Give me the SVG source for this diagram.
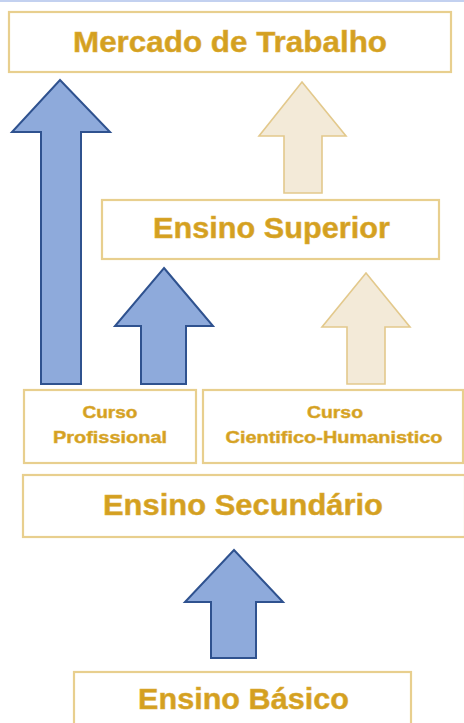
<svg xmlns="http://www.w3.org/2000/svg" width="464" height="723" viewBox="0 0 464 723">
<style>
.box{fill:#ffffff;stroke:#e8cf8e;stroke-width:2.2}
.t{font-family:"Liberation Sans",Arial,sans-serif;font-weight:bold;fill:#d4a021;stroke:#dcae3a;stroke-width:0.5;text-anchor:middle}
.big{font-size:30px}
.small{font-size:17px}
.blue{fill:#8eaadb;stroke:#2f528f;stroke-width:2;stroke-linejoin:miter}
.tan{fill:#f3ead8;stroke:#e3c98c;stroke-width:1.6}
</style>
<rect x="0" y="0" width="464" height="723" fill="#ffffff"/>
<rect x="0" y="0" width="464" height="2" fill="#c3d1f0"/>
<g id="mercado">
<rect class="box" x="9" y="12" width="442" height="60"/>
<text class="t big" x="230" y="52" textLength="314" lengthAdjust="spacingAndGlyphs">Mercado de Trabalho</text>
</g>
<g id="superior">
<rect class="box" x="102" y="200" width="337" height="59"/>
<text class="t big" x="271.5" y="238" textLength="237" lengthAdjust="spacingAndGlyphs">Ensino Superior</text>
</g>
<g id="profissional">
<rect class="box" x="24" y="390" width="172" height="73"/>
<text class="t small" x="110" y="418" textLength="55" lengthAdjust="spacingAndGlyphs">Curso</text>
<text class="t small" x="110" y="443" textLength="114" lengthAdjust="spacingAndGlyphs">Profissional</text>
</g>
<g id="cientifico">
<rect class="box" x="203" y="390" width="260" height="73"/>
<text class="t small" x="335" y="418" textLength="56" lengthAdjust="spacingAndGlyphs">Curso</text>
<text class="t small" x="334" y="443" textLength="217" lengthAdjust="spacingAndGlyphs">Cientifico-Humanistico</text>
</g>
<g id="secundario">
<rect class="box" x="23" y="475" width="442" height="62"/>
<text class="t big" x="243" y="515" textLength="280" lengthAdjust="spacingAndGlyphs">Ensino Secundário</text>
</g>
<g id="basico">
<rect class="box" x="74" y="672" width="337" height="60"/>
<text class="t big" x="243.5" y="709" textLength="211" lengthAdjust="spacingAndGlyphs">Ensino Básico</text>
</g>
<g id="connectors">
<polygon class="blue" points="60,80 110,132 81,132 81,384 41,384 41,132 12,132"/>
<polygon class="tan" points="302,82 346,136 322,136 322,193 284,193 284,136 259,136"/>
<polygon class="blue" points="164,268 213,326 186,326 186,384 141,384 141,326 115,326"/>
<polygon class="tan" points="366,273 410,327 385,327 385,384 347,384 347,327 322,327"/>
<polygon class="blue" points="234,550 283,602 256,602 256,658 211,658 211,602 185,602"/>
</g>
</svg>
